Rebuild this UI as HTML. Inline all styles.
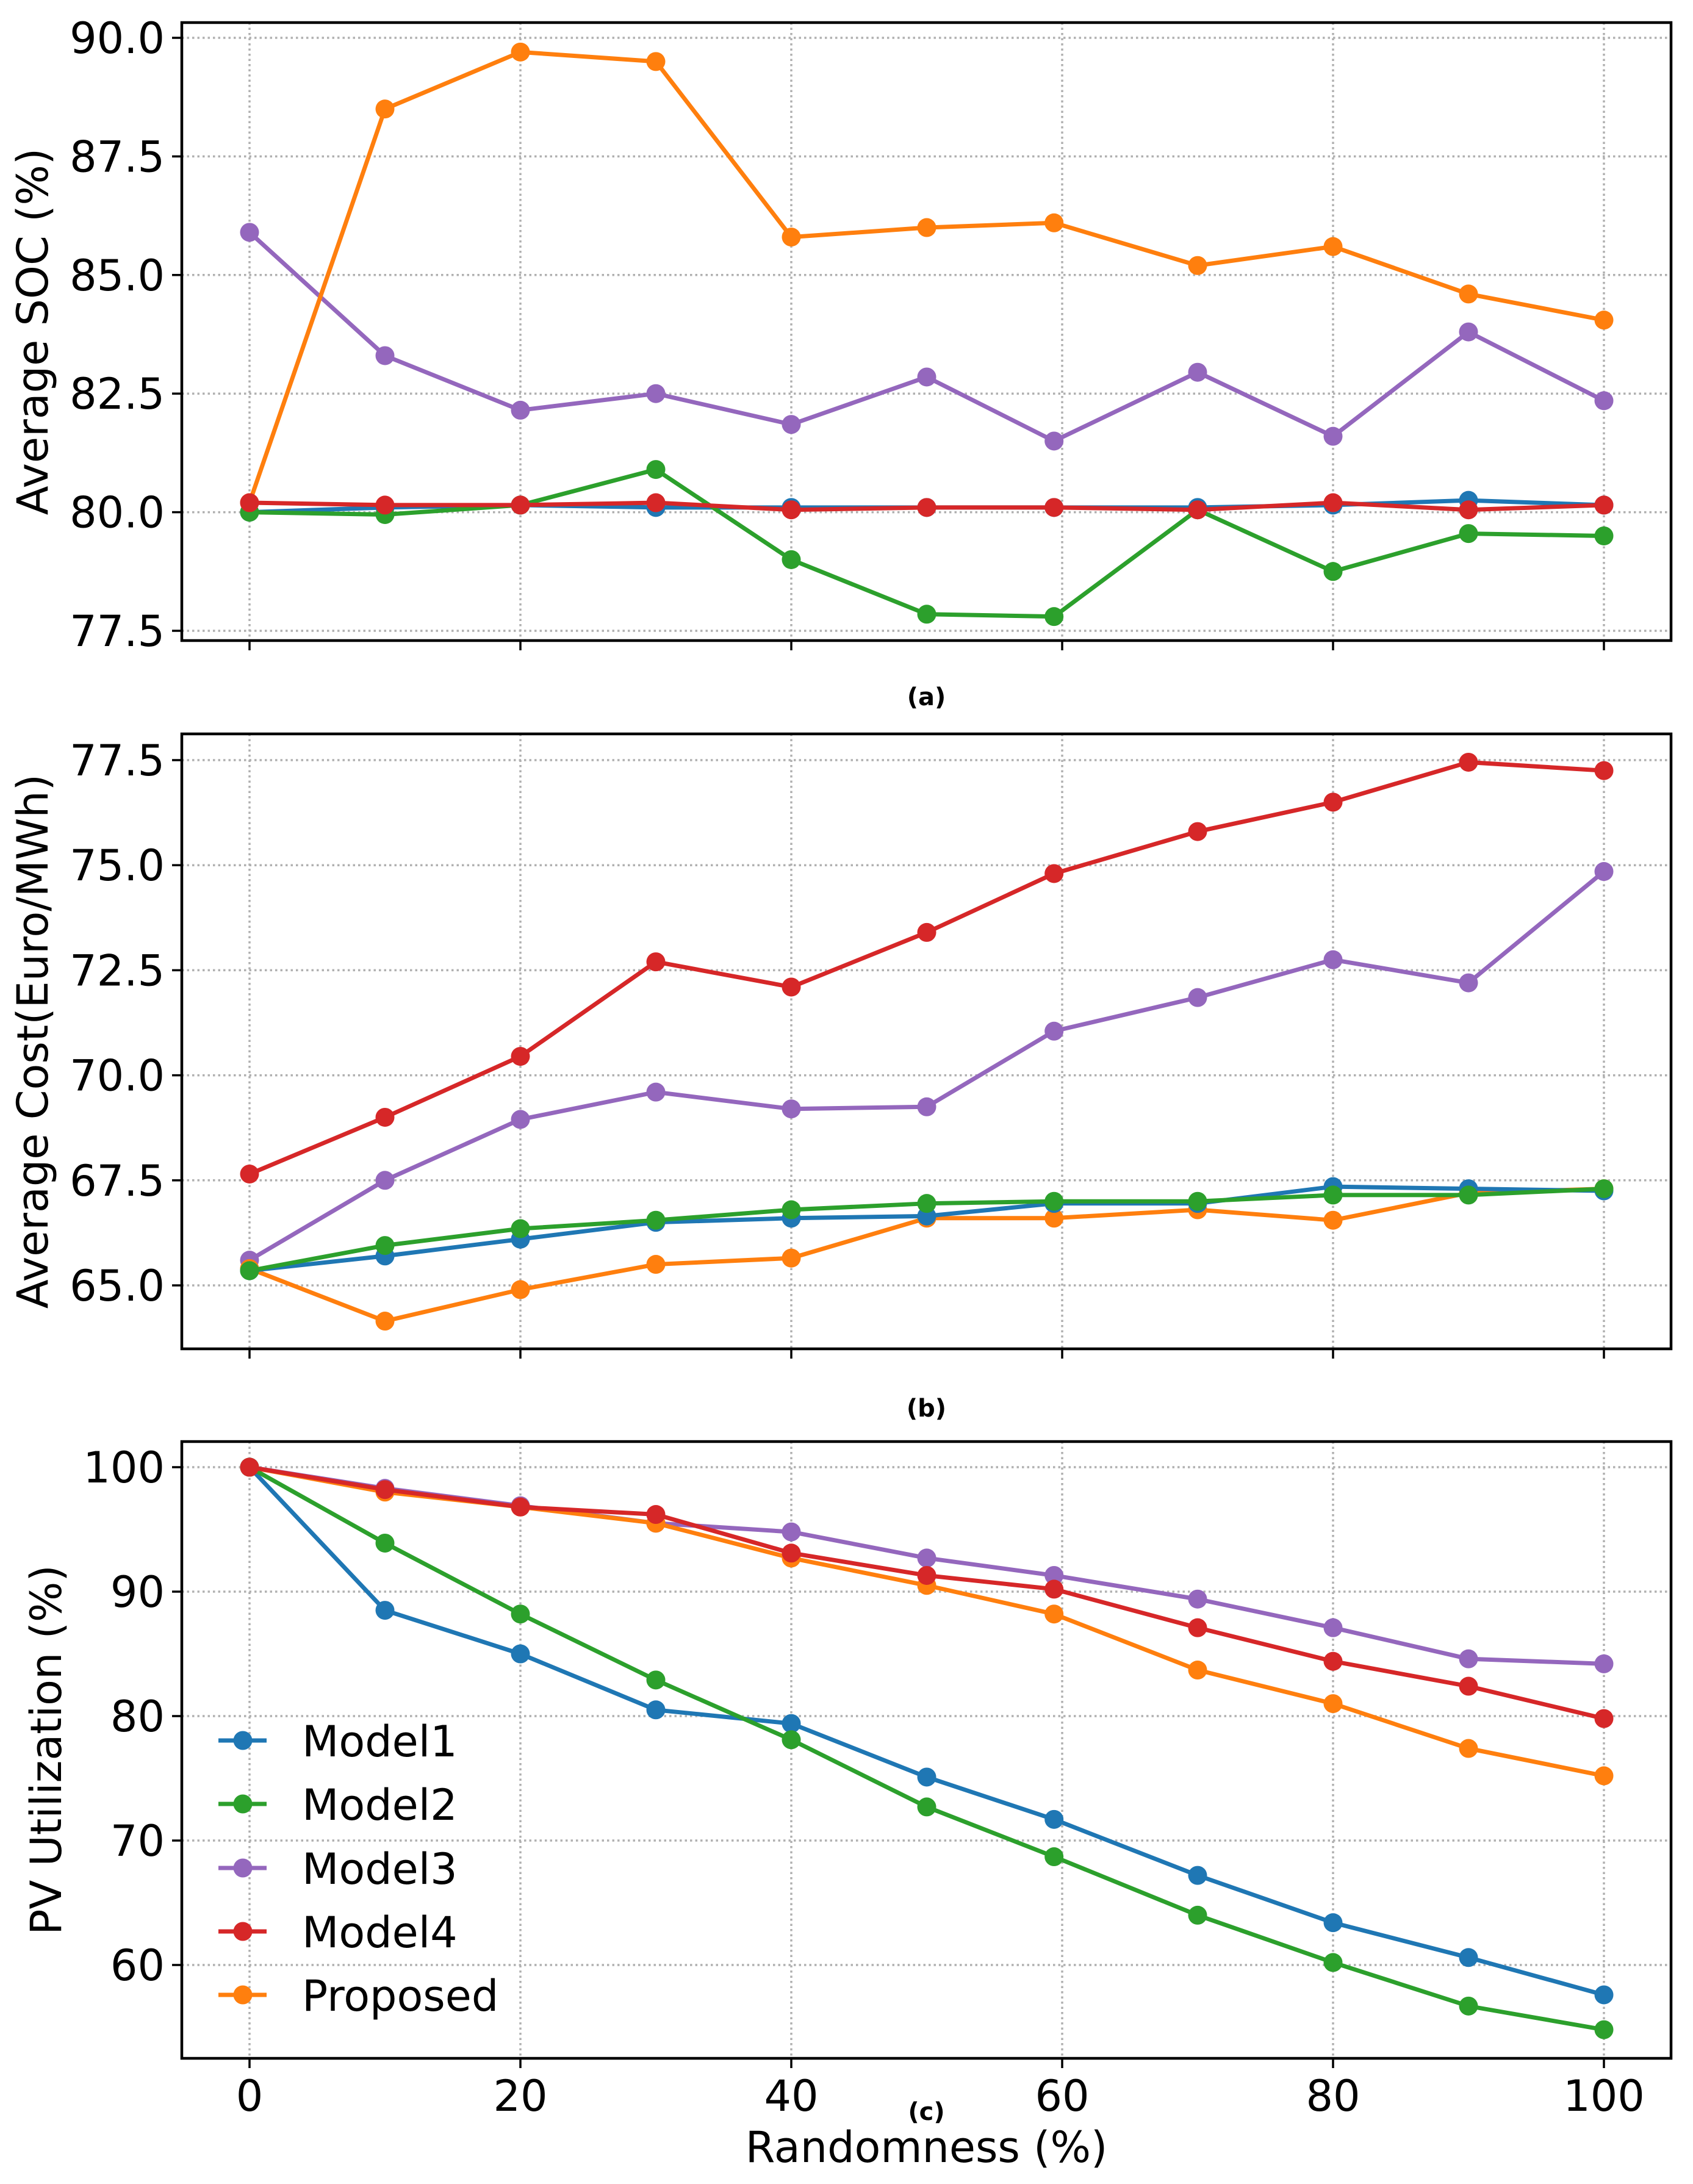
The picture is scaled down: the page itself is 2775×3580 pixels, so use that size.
<!DOCTYPE html>
<html><head><meta charset="utf-8"><style>
body{margin:0;background:#fff}
svg{display:block;font-family:"DejaVu Sans","Liberation Sans",sans-serif}
</style></head><body>
<svg id="chart" xmlns="http://www.w3.org/2000/svg" width="2775" height="3580" viewBox="0 0 2775 3580"></svg>
<script>
const xVals = [0,10,20,30,40,50,59.4,70,80,90,100];
const xTicks = [0,20,40,60,80,100];
const seriesNames = ["Model1","Model2","Model3","Model4","Proposed"];
const seriesColors = ["#1f77b4","#2ca02c","#9467bd","#d62728","#ff7f0e"];
const drawOrder = [2,4,0,1,3];

const socModel1 = [80.0,80.1,80.15,80.1,80.1,80.1,80.1,80.1,80.15,80.25,80.15];
const socModel2 = [80.0,79.95,80.15,80.9,79.0,77.85,77.8,80.05,78.75,79.55,79.5];
const socModel3 = [85.9,83.3,82.15,82.5,81.85,82.85,81.5,82.95,81.6,83.8,82.35];
const socModel4 = [80.2,80.15,80.15,80.2,80.05,80.1,80.1,80.05,80.2,80.05,80.15];
const socProposed = [80.2,88.5,89.7,89.5,85.8,86.0,86.1,85.2,85.6,84.6,84.05];
const socTicks = ["77.5","80.0","82.5","85.0","87.5","90.0"];

const costModel1 = [65.35,65.7,66.1,66.5,66.6,66.65,66.95,66.95,67.35,67.3,67.25];
const costModel2 = [65.35,65.95,66.35,66.55,66.8,66.95,67.0,67.0,67.15,67.15,67.3];
const costModel3 = [65.6,67.5,68.95,69.6,69.2,69.25,71.05,71.85,72.75,72.2,74.85];
const costModel4 = [67.65,69.0,70.45,72.7,72.1,73.4,74.8,75.8,76.5,77.45,77.25];
const costProposed = [65.4,64.15,64.9,65.5,65.65,66.6,66.6,66.8,66.55,67.2,67.3];
const costTicks = ["65.0","67.5","70.0","72.5","75.0","77.5"];

const pvModel1 = [100,88.5,85.0,80.5,79.4,75.1,71.7,67.2,63.4,60.6,57.6];
const pvModel2 = [100,93.9,88.2,82.9,78.1,72.7,68.7,64.0,60.2,56.7,54.8];
const pvModel3 = [100,98.3,96.9,95.5,94.8,92.7,91.3,89.4,87.1,84.6,84.2];
const pvModel4 = [100,98.2,96.8,96.2,93.1,91.3,90.2,87.1,84.4,82.4,79.8];
const pvProposed = [100,98.0,96.8,95.5,92.7,90.5,88.2,83.7,81.0,77.4,75.2];
const pvTicks = ["60","70","80","90","100"];

const NS="http://www.w3.org/2000/svg";
const svg=document.getElementById('chart');
function mk(tag,attrs,parent){const e=document.createElementNS(NS,tag);for(const k in attrs)e.setAttribute(k,attrs[k]);(parent||svg).appendChild(e);return e;}

const L=298,R=2739,X0=409,X100=2629;
function xs(v){return X0+(v-0)*(X100-X0)/100;}

function panel(cfg){
  const g=mk('g',{});
  
  
  const ys=v=>cfg.pA+(v-cfg.vA)*(cfg.pB-cfg.pA)/(cfg.vB-cfg.vA);
  xTicks.forEach(t=>{
    const l=mk('line',{x1:xs(t),x2:xs(t),y1:cfg.top,y2:cfg.bottom,stroke:'#b0b0b0','stroke-width':3.5,'stroke-dasharray':'3.5,5'},g);
    
    
    const tk=mk('line',{x1:xs(t),x2:xs(t),y1:cfg.bottom,y2:cfg.bottom+16,stroke:'#000','stroke-width':3.5},g);
    
    
    if(cfg.xlabels){
      const tx=mk('text',{x:xs(t),y:cfg.bottom+86,'font-size':70,'text-anchor':'middle'},g);
      tx.textContent=String(t);
      
      
    }
  });
  cfg.ticks.forEach(s=>{
    const v=parseFloat(s),y=ys(v);
    const l=mk('line',{x1:L,x2:R,y1:y,y2:y,stroke:'#b0b0b0','stroke-width':3.5,'stroke-dasharray':'3.5,5'},g);
    
    
    const tk=mk('line',{x1:L-16,x2:L,y1:y,y2:y,stroke:'#000','stroke-width':3.5},g);
    
    
    const tx=mk('text',{x:L-28,y:y+25,'font-size':70,'text-anchor':'end'},g);
    tx.textContent=s;
    
    
  });
  drawOrder.forEach(i=>{
    const data=cfg.series[i];
    const pts=data.map((v,j)=>xs(xVals[j])+','+ys(v)).join(' ');
    const pl=mk('polyline',{points:pts,fill:'none',stroke:seriesColors[i],'stroke-width':7,'stroke-linejoin':'round'},g);
    
    
    data.forEach((v,j)=>{
      const c=mk('circle',{cx:xs(xVals[j]),cy:ys(v),r:15.5,fill:seriesColors[i]},g);
      
      
    });
  });
  const fr=mk('rect',{x:L,y:cfg.top,width:R-L,height:cfg.bottom-cfg.top,fill:'none',stroke:'#000','stroke-width':4.5},g);
  
  
  const yl=mk('text',{x:0,y:0,'font-size':70,'text-anchor':'middle',transform:'translate('+cfg.ylx+','+((cfg.top+cfg.bottom)/2)+') rotate(-90)'},g);
  yl.textContent=cfg.ylabel;
  
  
  const st=mk('text',{x:(L+R)/2,y:cfg.subY,'font-size':40,'font-weight':'bold','text-anchor':'middle'},g);
  st.textContent=cfg.sub;
  
  
  return g;
}

panel({name:'panel-a-soc',top:37,bottom:1050,vA:90,pA:62,vB:77.5,pB:1034,ticks:socTicks,
  series:[socModel1,socModel2,socModel3,socModel4,socProposed],ylabel:'Average SOC (%)',ylx:78,sub:'(a)',subY:1156,xlabels:false});
panel({name:'panel-b-cost',top:1203,bottom:2211,vA:77.5,pA:1246,vB:65,pB:2107,ticks:costTicks,
  series:[costModel1,costModel2,costModel3,costModel4,costProposed],ylabel:'Average Cost(Euro/MWh)',ylx:78,sub:'(b)',subY:2322,xlabels:false});
panel({name:'panel-c-pv',top:2363,bottom:3374,vA:100,pA:2405,vB:60,pB:3221,ticks:pvTicks,
  series:[pvModel1,pvModel2,pvModel3,pvModel4,pvProposed],ylabel:'PV Utilization (%)',ylx:100,sub:'(c)',subY:3475,xlabels:true});

const xl=mk('text',{x:(L+R)/2,y:3544,'font-size':70,'text-anchor':'middle'});
xl.textContent='Randomness (%)';



const lg=mk('g',{});


const legY=[2853,2957,3062,3166,3270];
seriesNames.forEach((n,i)=>{
  const e=mk('g',{},lg);
  
  
  mk('line',{x1:358,x2:437,y1:legY[i],y2:legY[i],stroke:seriesColors[i],'stroke-width':7},e);
  mk('circle',{cx:398,cy:legY[i],r:15.5,fill:seriesColors[i]},e);
  const t=mk('text',{x:495,y:legY[i]+26,'font-size':70},e);
  t.textContent=n;
});
</script>
</body></html>
